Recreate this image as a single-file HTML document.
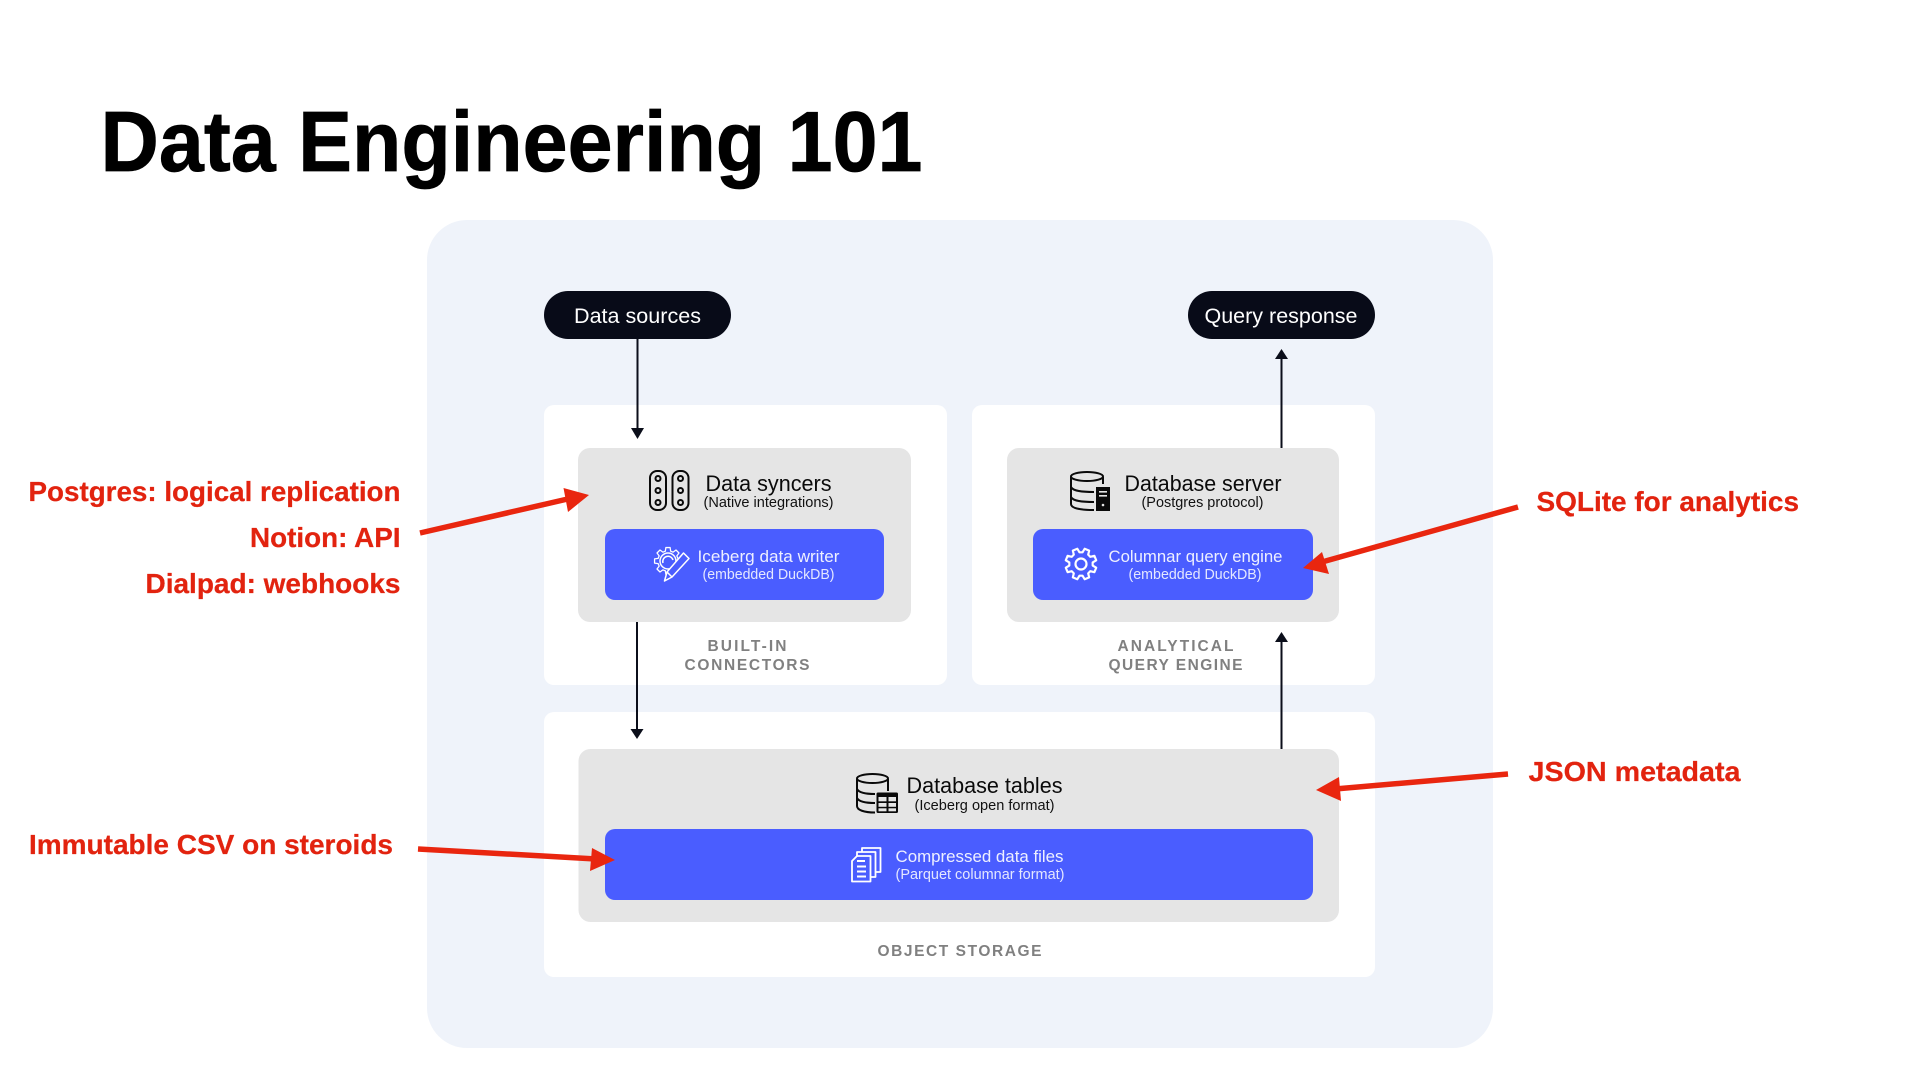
<!DOCTYPE html>
<html>
<head>
<meta charset="utf-8">
<title>Data Engineering 101</title>
<style>
html,body{margin:0;padding:0;background:#fff;width:1920px;height:1080px;overflow:hidden}
svg{display:block}
text{font-family:"Liberation Sans",sans-serif}
.t1{font-size:22px;fill:#0a0a0a}
.t2{font-size:14.5px;fill:#111}
.w1{font-size:16.5px;fill:#eef0ff}
.w2{font-size:14.5px;fill:#e4e7ff}
.cap{font-size:15.5px;font-weight:bold;fill:#808080}
.pill{font-size:21.5px;fill:#fff}
.red{font-size:28px;font-weight:bold;fill:#e2230f;stroke:#e2230f;stroke-width:.25px}
</style>
</head>
<body>
<svg width="1920" height="1080" viewBox="0 0 1920 1080" xmlns="http://www.w3.org/2000/svg">
<defs>
<path id="gear" d="M15.8,-2.5 L15.8,2.5 L11.59,3.11 L10.39,6 L12.94,9.4 L9.4,12.94 L6,10.39 L3.11,11.59 L2.5,15.8 L-2.5,15.8 L-3.11,11.59 L-6,10.39 L-9.4,12.94 L-12.94,9.4 L-10.39,6 L-11.59,3.11 L-15.8,2.5 L-15.8,-2.5 L-11.59,-3.11 L-10.39,-6 L-12.94,-9.4 L-9.4,-12.94 L-6,-10.39 L-3.11,-11.59 L-2.5,-15.8 L2.5,-15.8 L3.11,-11.59 L6,-10.39 L9.4,-12.94 L12.94,-9.4 L10.39,-6 L11.59,-3.11 Z"/>
</defs>
<rect width="1920" height="1080" fill="#fff"/>

<text x="100.500" y="171" font-size="85" font-weight="bold" fill="#000" stroke="#000" stroke-width="0.700" textLength="822" lengthAdjust="spacingAndGlyphs">Data Engineering 101</text>

<rect x="427" y="220" width="1066" height="828" rx="40" fill="#eff3fa"/>
<rect x="544" y="405" width="403" height="280" rx="10" fill="#fff"/>
<rect x="972" y="405" width="403" height="280" rx="10" fill="#fff"/>
<rect x="544" y="712" width="831" height="265" rx="10" fill="#fff"/>

<rect x="578" y="448" width="333" height="174" rx="12" fill="#e5e5e5"/>
<rect x="1007" y="448" width="332" height="174" rx="12" fill="#e5e5e5"/>
<rect x="578.500" y="749" width="760.500" height="173" rx="12" fill="#e5e5e5"/>

<rect x="605" y="529" width="279" height="71" rx="10" fill="#4a5dff"/>
<rect x="1033" y="529" width="280" height="71" rx="10" fill="#4a5dff"/>
<rect x="605" y="829" width="708" height="71" rx="10" fill="#4a5dff"/>

<rect x="544" y="291" width="187" height="48" rx="24" fill="#080b18"/>
<rect x="1188" y="291" width="187" height="48" rx="24" fill="#080b18"/>
<text class="pill" x="574" y="323" textLength="127" lengthAdjust="spacingAndGlyphs">Data sources</text>
<text class="pill" x="1204.500" y="323" textLength="153" lengthAdjust="spacingAndGlyphs">Query response</text>

<!-- black connectors -->
<g stroke="#0b0e1a" stroke-width="2" fill="none">
<line x1="637.500" y1="339" x2="637.500" y2="430"/>
<line x1="1281.500" y1="448" x2="1281.500" y2="357"/>
<line x1="637" y1="622" x2="637" y2="731"/>
<line x1="1281.500" y1="749" x2="1281.500" y2="640"/>
</g>
<g fill="#0b0e1a">
<polygon points="631,428 644,428 637.500,439"/>
<polygon points="1275,359 1288,359 1281.500,349"/>
<polygon points="630.500,729 643.500,729 637,739"/>
<polygon points="1275,642 1288,642 1281.500,632"/>
</g>

<!-- Data syncers -->
<g fill="none" stroke="#0a0a0a" stroke-width="2">
<rect x="650" y="471" width="16" height="39" rx="7"/>
<rect x="672.500" y="471" width="16" height="39" rx="7"/>
<circle cx="658" cy="478.500" r="2.500"/>
<circle cx="658" cy="490.500" r="2.500"/>
<circle cx="658" cy="502.500" r="2.500"/>
<circle cx="680.500" cy="478.500" r="2.500"/>
<circle cx="680.500" cy="490.500" r="2.500"/>
<circle cx="680.500" cy="502.500" r="2.500"/>
</g>
<text class="t1" x="705.500" y="491" textLength="126" lengthAdjust="spacingAndGlyphs">Data syncers</text>
<text class="t2" x="703.500" y="507" textLength="130" lengthAdjust="spacingAndGlyphs">(Native integrations)</text>

<!-- Iceberg writer icon -->
<g fill="none" stroke="#fff" stroke-width="1.500" stroke-linejoin="round">
<use href="#gear" transform="translate(668,561) scale(0.85)"/>
<circle cx="668" cy="561" r="8"/>
<path d="M663,563 A5,5 0 1 1 673,560"/>
<polygon points="683.500,553 689,558.500 672,577 664.500,581 667,572" fill="#4a5dff"/>
<line x1="667" y1="572" x2="672" y2="577"/>
</g>
<text class="w1" x="697.500" y="562" textLength="142" lengthAdjust="spacingAndGlyphs">Iceberg data writer</text>
<text class="w2" x="702.500" y="579" textLength="132" lengthAdjust="spacingAndGlyphs">(embedded DuckDB)</text>
<text class="cap" x="707.500" y="651" textLength="79" lengthAdjust="spacing">BUILT-IN</text>
<text class="cap" x="684.500" y="670" textLength="125" lengthAdjust="spacing">CONNECTORS</text>

<!-- Database server icon -->
<g fill="none" stroke="#0a0a0a" stroke-width="2">
<ellipse cx="1087" cy="476.500" rx="16" ry="4.500"/>
<path d="M1071,477 V504 C1071,508 1079,510 1094,510"/>
<path d="M1103,477 V484"/>
<path d="M1071,487 C1073,491 1082,492 1094,492"/>
<path d="M1071,497 C1073,501 1082,502 1094,502"/>
</g>
<rect x="1096" y="487" width="14" height="24" fill="#0a0a0a"/>
<rect x="1099" y="491" width="8" height="1.600" fill="#e5e5e5"/>
<rect x="1099" y="495" width="8" height="1.600" fill="#e5e5e5"/>
<circle cx="1103" cy="505" r="1.300" fill="#e5e5e5"/>
<text class="t1" x="1124.500" y="491" textLength="157" lengthAdjust="spacingAndGlyphs">Database server</text>
<text class="t2" x="1141.500" y="507" textLength="122" lengthAdjust="spacingAndGlyphs">(Postgres protocol)</text>

<!-- Gear icon -->
<g fill="none" stroke="#fff" stroke-width="2.200" stroke-linejoin="round">
<use href="#gear" transform="translate(1081,564) rotate(22.500) scale(0.98)"/>
<circle cx="1081" cy="564" r="5.500"/>
</g>
<text class="w1" x="1108.500" y="562" textLength="174" lengthAdjust="spacingAndGlyphs">Columnar query engine</text>
<text class="w2" x="1128.500" y="579" textLength="133" lengthAdjust="spacingAndGlyphs">(embedded DuckDB)</text>
<text class="cap" x="1117.500" y="651" textLength="116" lengthAdjust="spacing">ANALYTICAL</text>
<text class="cap" x="1108.500" y="670" textLength="134" lengthAdjust="spacing">QUERY ENGINE</text>

<!-- Database tables icon -->
<g fill="none" stroke="#0a0a0a" stroke-width="2">
<ellipse cx="872.500" cy="778.500" rx="15.500" ry="4.500"/>
<path d="M857,779 V806 C857,810 864,812.500 875,812.500"/>
<path d="M888,779 V791"/>
<path d="M857,789 C859,793 866,794 875,794"/>
<path d="M857,798 C859,802 866,803 875,803"/>
</g>
<rect x="876.500" y="792.500" width="21.500" height="20.500" rx="1.500" fill="#0a0a0a"/>
<g fill="#e5e5e5">
<rect x="878.500" y="797" width="8" height="4.300"/>
<rect x="888.500" y="797" width="7.500" height="4.300"/>
<rect x="878.500" y="803" width="8" height="3.800"/>
<rect x="888.500" y="803" width="7.500" height="3.800"/>
<rect x="878.500" y="808.300" width="8" height="3"/>
<rect x="888.500" y="808.300" width="7.500" height="3"/>
</g>
<text class="t1" x="906.500" y="793" textLength="156" lengthAdjust="spacingAndGlyphs">Database tables</text>
<text class="t2" x="914.500" y="810" textLength="140" lengthAdjust="spacingAndGlyphs">(Iceberg open format)</text>

<!-- Files icon -->
<g stroke="#fff" stroke-width="1.800" fill="#4a5dff" stroke-linejoin="round">
<path d="M862,852 V848 H880.500 V872 H875"/>
<path d="M857,856 V852 H875.500 V877 H870"/>
<path d="M857,856 H870.500 V881.500 H852 V861 Z"/>
</g>
<g stroke="#fff" stroke-width="2">
<line x1="857" y1="861" x2="865" y2="861"/>
<line x1="857" y1="866.500" x2="866" y2="866.500"/>
<line x1="857" y1="871.500" x2="866" y2="871.500"/>
<line x1="857" y1="876.500" x2="866" y2="876.500"/>
</g>
<text class="w1" x="895.500" y="862" textLength="168" lengthAdjust="spacingAndGlyphs">Compressed data files</text>
<text class="w2" x="895.500" y="879" textLength="169" lengthAdjust="spacingAndGlyphs">(Parquet columnar format)</text>
<text class="cap" x="877.500" y="956" textLength="164" lengthAdjust="spacing">OBJECT STORAGE</text>

<!-- Red labels -->
<text class="red" x="28.500" y="501" textLength="372" lengthAdjust="spacingAndGlyphs">Postgres: logical replication</text>
<text class="red" x="250" y="547" textLength="150.500" lengthAdjust="spacingAndGlyphs">Notion: API</text>
<text class="red" x="145.500" y="593" textLength="255" lengthAdjust="spacingAndGlyphs">Dialpad: webhooks</text>
<text class="red" x="29" y="854" textLength="364" lengthAdjust="spacingAndGlyphs">Immutable CSV on steroids</text>
<text class="red" x="1536.500" y="511" textLength="262.500" lengthAdjust="spacingAndGlyphs">SQLite for analytics</text>
<text class="red" x="1528.500" y="781" textLength="212" lengthAdjust="spacingAndGlyphs">JSON metadata</text>

<!-- Red arrows -->
<g stroke="#e9260f" stroke-width="5.500" fill="none">
<line x1="420" y1="533" x2="572" y2="498"/>
<line x1="418" y1="849" x2="596" y2="859"/>
<line x1="1518" y1="507" x2="1322" y2="562"/>
<line x1="1508" y1="774" x2="1335" y2="789"/>
</g>
<g fill="#e9260f">
<polygon points="589,495 563.500,488 568,512"/>
<polygon points="615,860 592,848 590,871"/>
<polygon points="1303,568 1322,552 1329,574"/>
<polygon points="1316,790 1339,777 1341,801"/>
</g>
</svg>
</body>
</html>
